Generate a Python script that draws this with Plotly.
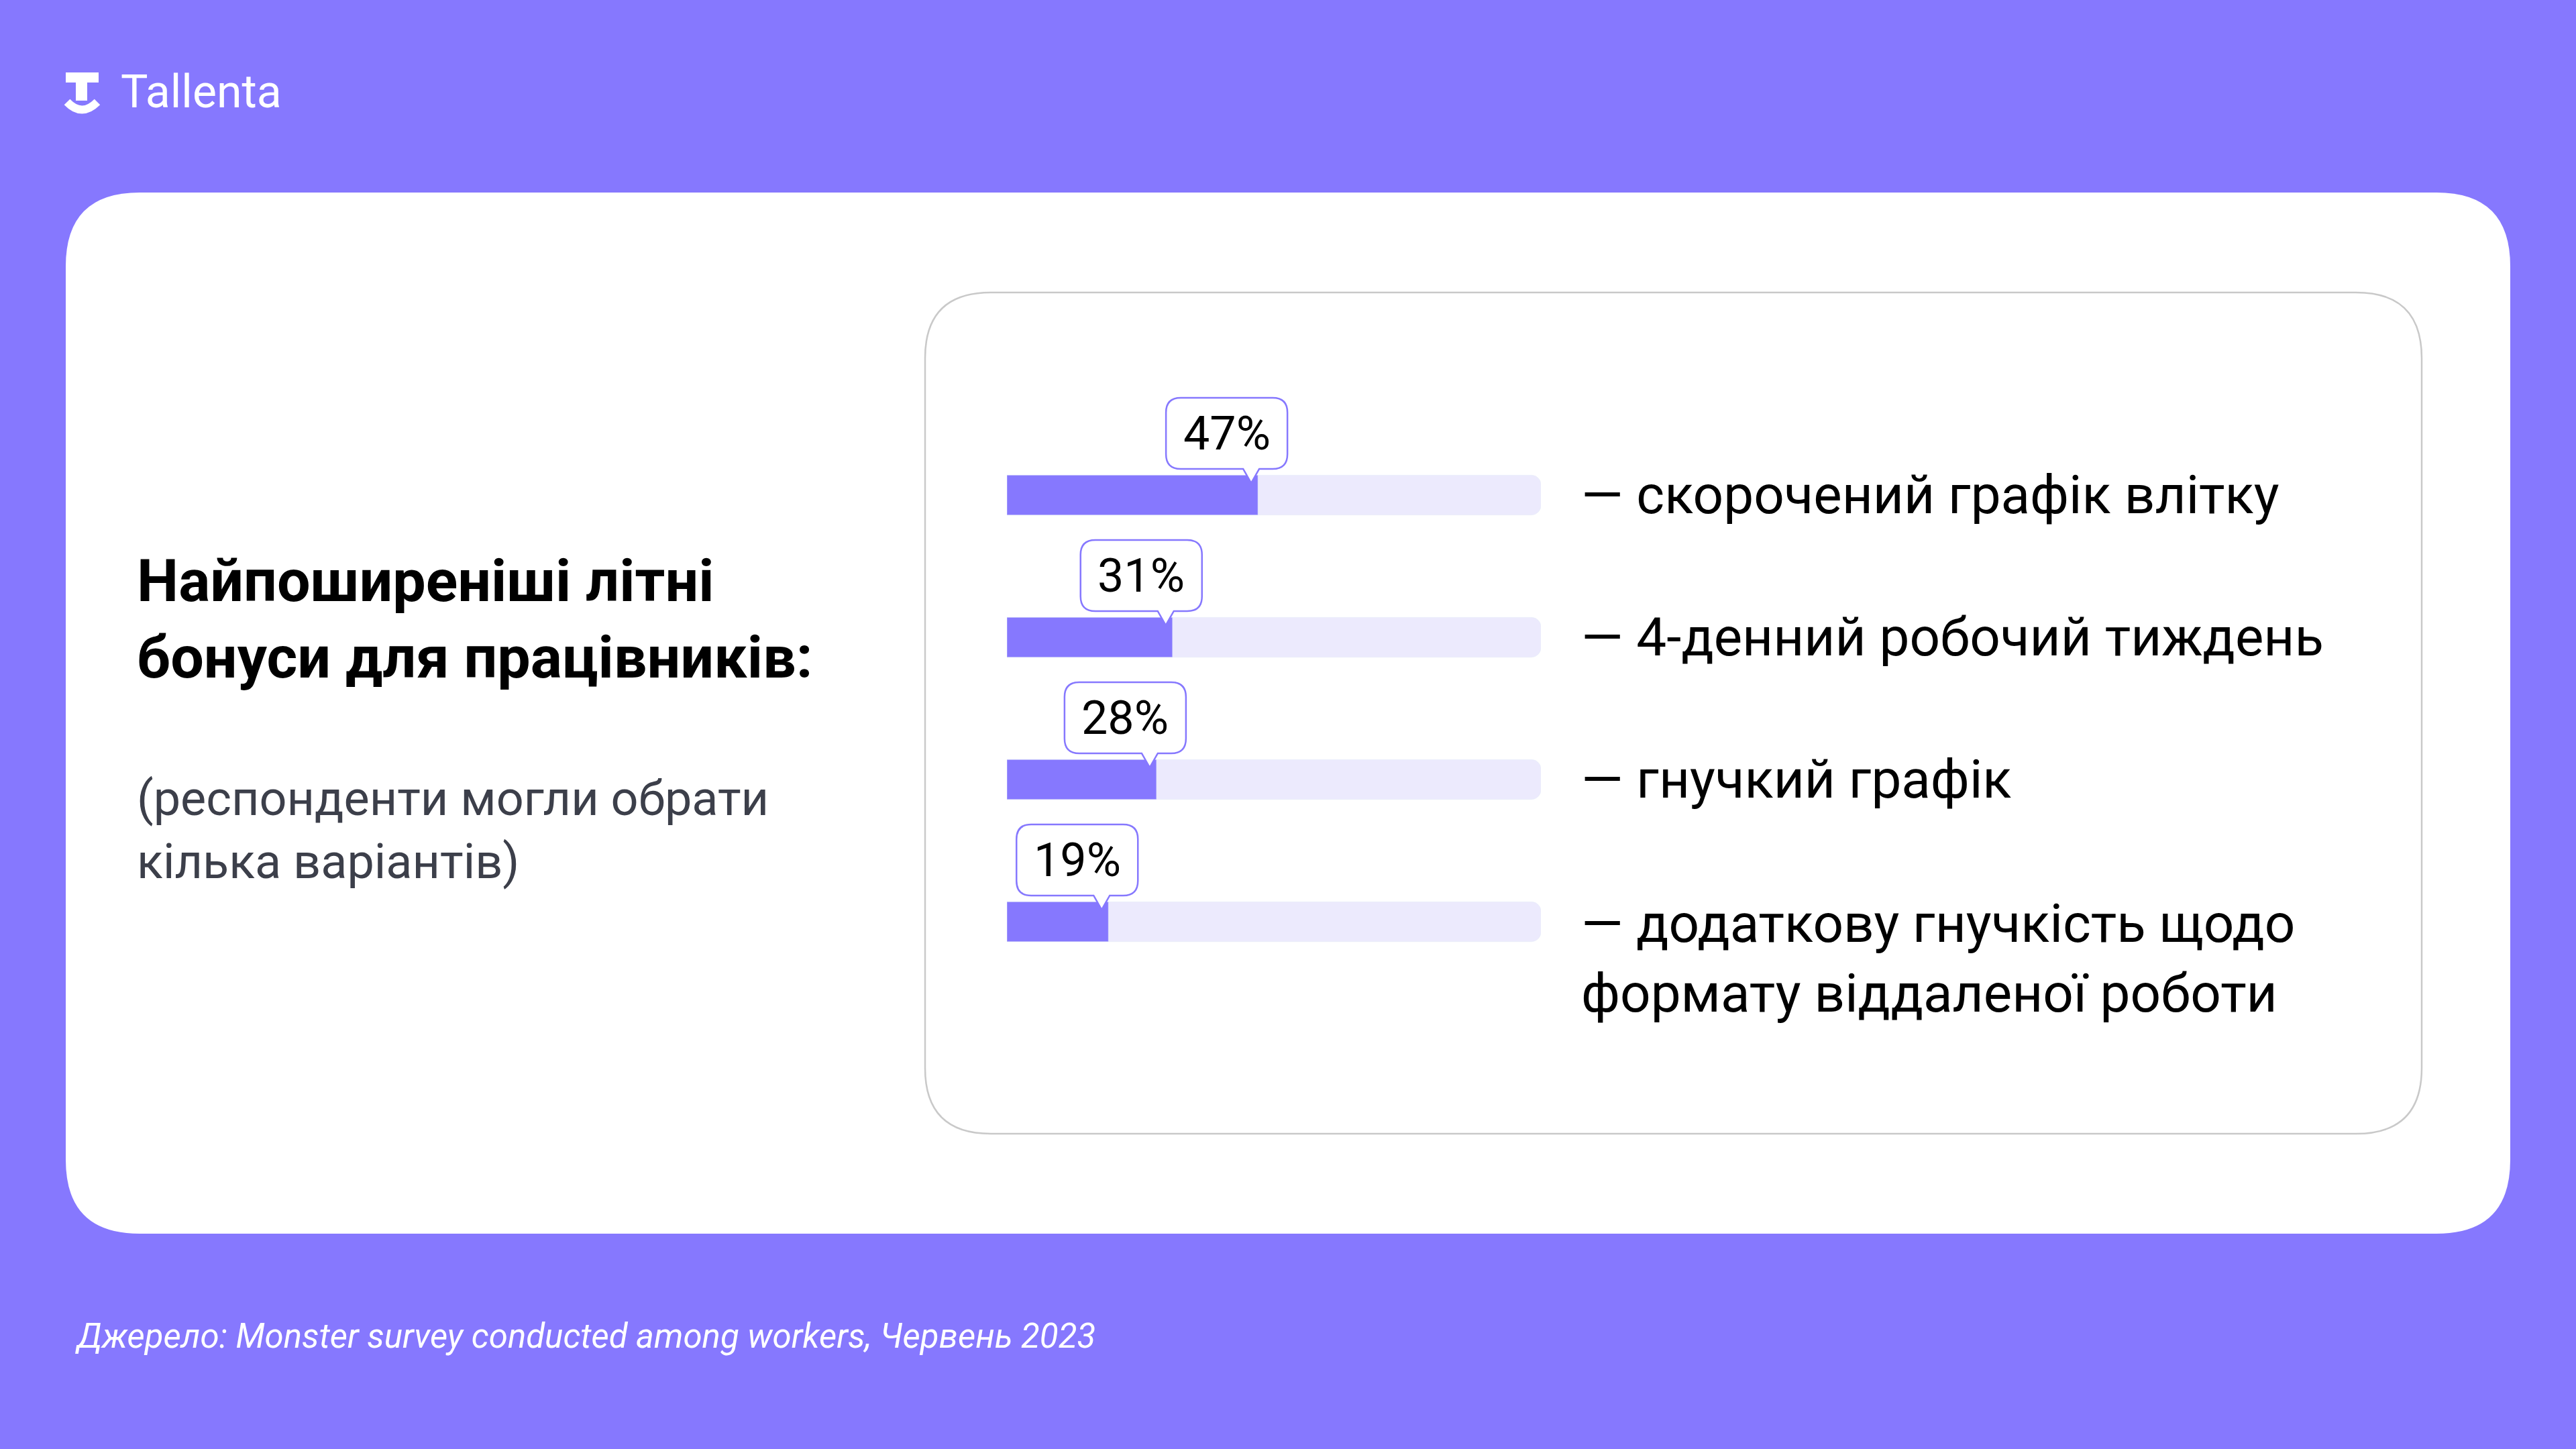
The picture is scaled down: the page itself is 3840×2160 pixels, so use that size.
import plotly.graph_objects as go

categories = ["скорочений графік влітку", "4-денний робочий тиждень",
              "гнучкий графік", "додаткову гнучкість щодо<br>формату віддаленої роботи"]
values = [47, 31, 28, 19]
labels = ["47%", "31%", "28%", "19%"]

W, H = 3840, 2160
PURPLE = "#8678FE"
TRACK = "#ECEAFD"
FONT = "Roboto"

# bar area geometry in pixels
BX0, BX1 = 1501, 2297
ROW0, ROWSTEP = 738, 212
units_per_px = 100 / (BX1 - BX0)

fig = go.Figure()
rows = list(range(len(values)))
fig.add_trace(go.Bar(x=[100] * len(values), y=rows, orientation="h",
                     marker_color=TRACK, width=0.28, xaxis="x2", yaxis="y2",
                     hoverinfo="skip"))
fig.add_trace(go.Bar(x=values, y=rows, orientation="h",
                     marker_color=PURPLE, width=0.28, xaxis="x2", yaxis="y2",
                     hoverinfo="skip"))

shapes = [
    dict(type="rect", x0=0, x1=W, y0=0, y1=H, fillcolor=PURPLE, line_width=0, layer="below"),
]


def rrect(x0, y0, x1, y1, r):
    return (f"M {x0+r},{y0} L {x1-r},{y0} Q {x1},{y0} {x1},{y0+r} L {x1},{y1-r} "
            f"Q {x1},{y1} {x1-r},{y1} L {x0+r},{y1} Q {x0},{y1} {x0},{y1-r} "
            f"L {x0},{y0+r} Q {x0},{y0} {x0+r},{y0} Z")


shapes.append(dict(type="path", path=rrect(98, 287, 3742, 1839, 110), xref="x", yref="y",
                   fillcolor="white", line_width=0, layer="below"))
shapes.append(dict(type="path", path=rrect(1379, 436, 3610, 1690, 98), xref="x", yref="y",
                   fillcolor="white", line=dict(color="#C9C9C9", width=2.5), layer="below"))

# logo icon
shapes.append(dict(type="rect", x0=98, x1=147, y0=108, y1=123, xref="x", yref="y",
                   fillcolor="white", line_width=0))
shapes.append(dict(type="rect", x0=113, x1=130, y0=108, y1=150, xref="x", yref="y",
                   fillcolor="white", line_width=0))
shapes.append(dict(type="path", path="M 100,152 Q 122,175 145,152", xref="x", yref="y",
                   line=dict(color="white", width=12)))

annotations = []
for i, (v, lab, cat) in enumerate(zip(values, labels, categories)):
    cy = ROW0 + i * ROWSTEP
    right = v + 44 * units_per_px
    left = right - 181 * units_per_px
    rx = 22 * units_per_px
    ry = 22
    top, bot = cy - 145, cy - 39
    tip = v - 10 * units_per_px
    hw = 12 * units_per_px
    path = (f"M {left+rx},{top} L {right-rx},{top} Q {right},{top} {right},{top+ry} "
            f"L {right},{bot-ry} Q {right},{bot} {right-rx},{bot} "
            f"L {tip+hw},{bot} L {tip},{cy-18} L {tip-hw},{bot} "
            f"L {left+rx},{bot} Q {left},{bot} {left},{bot-ry} L {left},{top+ry} "
            f"Q {left},{top} {left+rx},{top} Z")
    shapes.append(dict(type="path", path=path, xref="x2", yref="y",
                       fillcolor="white", line=dict(color=PURPLE, width=2.5)))
    annotations.append(dict(x=(left + right) / 2, y=(top + bot) / 2, xref="x2", yref="y",
                            text=lab, showarrow=False,
                            font=dict(family=FONT, size=70, color="black")))
    annotations.append(dict(x=2355, y=cy, xref="x", yref="y", text="— " + cat,
                            showarrow=False, xanchor="left",
                            yanchor="middle" if "<br>" not in cat else "top",
                            yshift=0 if "<br>" not in cat else 46,
                            align="left",
                            font=dict(family=FONT, size=80, color="black")))

annotations += [
    dict(x=178, y=137, xref="x", yref="y", text="Tallenta", showarrow=False, xanchor="left",
         font=dict(family=FONT, size=68, color="white")),
    dict(x=202, y=922, xref="x", yref="y",
         text="<b>Найпоширеніші літні<br>бонуси для працівників:</b>", showarrow=False,
         xanchor="left", align="left",
         font=dict(family=FONT, size=88, color="black")),
    dict(x=202, y=1237, xref="x", yref="y",
         text="(респонденти могли обрати<br>кілька варіантів)", showarrow=False,
         xanchor="left", align="left",
         font=dict(family=FONT, size=72, color="#3C3F4A")),
    dict(x=110, y=1991, xref="x", yref="y",
         text="<i>Джерело: Monster survey conducted among workers, Червень 2023</i>",
         showarrow=False, xanchor="left",
         font=dict(family=FONT, size=51, color="white")),
]

fig.update_layout(
    width=W, height=H, margin=dict(l=0, r=0, t=0, b=0),
    paper_bgcolor=PURPLE, plot_bgcolor="rgba(0,0,0,0)",
    showlegend=False, barmode="overlay", barcornerradius=14,
    xaxis=dict(range=[0, W], domain=[0, 1], visible=False, fixedrange=True),
    yaxis=dict(range=[H, 0], domain=[0, 1], visible=False, fixedrange=True),
    xaxis2=dict(range=[0, 100], domain=[BX0 / W, BX1 / W], visible=False, anchor="y2"),
    yaxis2=dict(range=[len(values) - 0.5, -0.5],
                domain=[1 - (ROW0 + 3.5 * ROWSTEP) / H, 1 - (ROW0 - 0.5 * ROWSTEP) / H],
                visible=False, anchor="x2"),
    shapes=shapes, annotations=annotations,
)

fig.write_html("out.html", config={"displayModeBar": False},
               post_script="document.body.style.margin='0';")
